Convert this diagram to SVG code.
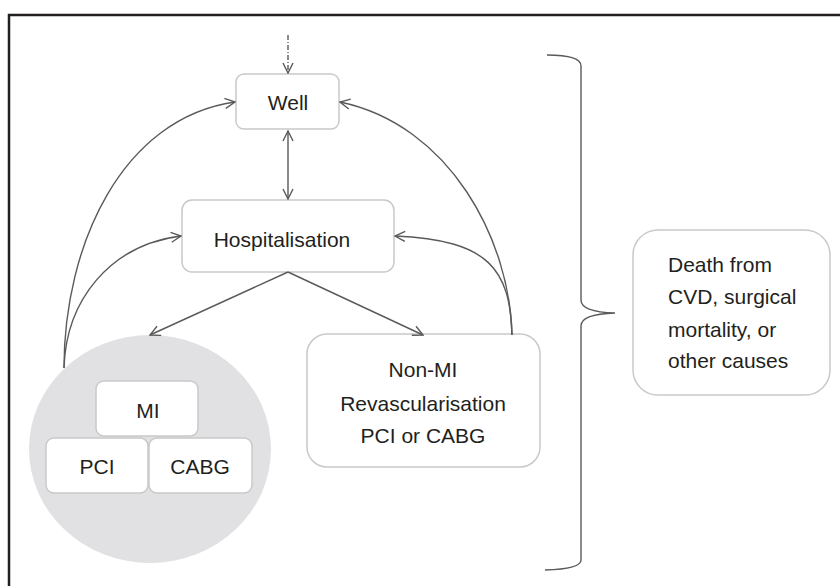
<svg xmlns="http://www.w3.org/2000/svg" width="840" height="586" viewBox="0 0 840 586">
<style>
.box{fill:#ffffff;stroke:#c9c9c9;stroke-width:1.5}
.t{font-family:"Liberation Sans",Arial,sans-serif;font-size:21px;fill:#231f20}
.c{text-anchor:middle}
.ln{fill:none;stroke:#5a5a5a;stroke-width:1.4}
.frame{stroke:#231f20;stroke-width:2.5;fill:none}
</style>
<defs>
<marker id="ah" viewBox="0 0 12 12" refX="11" refY="6" markerWidth="12" markerHeight="12" markerUnits="userSpaceOnUse" orient="auto-start-reverse">
<path d="M1,1 L11,6 L1,11" fill="none" stroke="#5a5a5a" stroke-width="1.4"/>
</marker>
</defs>
<rect width="840" height="586" fill="#ffffff"/>
<path class="frame" d="M9,586 V15 H840"/>
<g id="mi-group">
<ellipse cx="150" cy="449" rx="121" ry="114" fill="#e1e1e3"/>
</g>
<g id="well">
<rect class="box" x="236" y="74" width="103" height="55" rx="8"/>
<text class="t c" x="288" y="110">Well</text>
</g>
<g id="hospitalisation">
<rect class="box" x="182" y="200" width="212" height="72" rx="10"/>
<text class="t c" x="282" y="247">Hospitalisation</text>
</g>
<g id="mi">
<rect class="box" x="96" y="381" width="102" height="55" rx="8"/>
<text class="t c" x="148" y="418">MI</text>
</g>
<g id="pci">
<rect class="box" x="46" y="438" width="102" height="55" rx="8"/>
<text class="t c" x="97" y="474">PCI</text>
</g>
<g id="cabg">
<rect class="box" x="149" y="438" width="103" height="55" rx="8"/>
<text class="t c" x="200" y="474">CABG</text>
</g>
<g id="non-mi">
<rect class="box" x="307" y="334" width="233" height="133" rx="20"/>
<text class="t c" x="423" y="377">Non-MI</text>
<text class="t c" x="423" y="411">Revascularisation</text>
<text class="t c" x="423" y="443">PCI or CABG</text>
</g>
<g id="death">
<rect class="box" x="633" y="230" width="197" height="165" rx="25"/>
<text class="t" x="668" y="272">Death from</text>
<text class="t" x="668" y="304">CVD, surgical</text>
<text class="t" x="668" y="337">mortality, or</text>
<text class="t" x="668" y="368">other causes</text>
</g>
<g id="connectors">
<path class="ln" d="M288,35 V73" stroke-dasharray="5,2,1,2" marker-end="url(#ah)"/>
<path class="ln" d="M288,131 V199" marker-start="url(#ah)" marker-end="url(#ah)"/>
<path class="ln" d="M288,272 L150,335" marker-end="url(#ah)"/>
<path class="ln" d="M288,272 L423,335" marker-end="url(#ah)"/>
<path class="ln" d="M64,368 C64,245 122,118 235,102" marker-end="url(#ah)"/>
<path class="ln" d="M64,368 C66,300 110,245 181,236" marker-end="url(#ah)"/>
<path class="ln" d="M512,335 C510,240 450,125 340,102" marker-end="url(#ah)"/>
<path class="ln" d="M512,335 C510,270 490,240 395,236" marker-end="url(#ah)"/>
<path class="ln" d="M547,55 Q581,55 581,66 V300 Q581,312 615,313 Q581,314 581,326 V560 Q581,569 545,570"/>
</g>
</svg>
